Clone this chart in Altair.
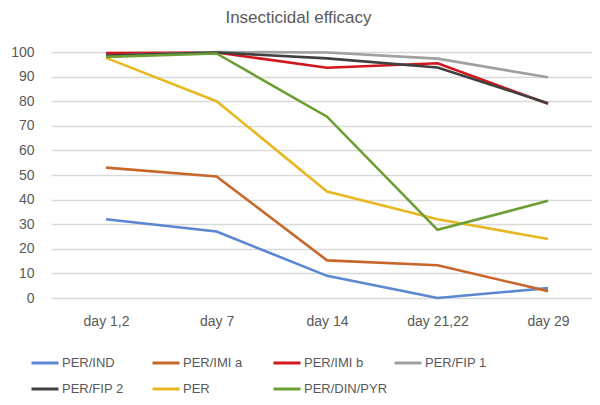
import altair as alt
import pandas as pd

days = ["day 1,2", "day 7", "day 14", "day 21,22", "day 29"]
series_names = ["PER/IND", "PER/IMI a", "PER/IMI b", "PER/FIP 1", "PER/FIP 2", "PER", "PER/DIN/PYR"]
per_ind = [32, 27, 9, 0, 4]
per_imi_a = [53, 49.4, 15.3, 13.3, 2.8]
per_imi_b = [99.6, 99.8, 93.6, 95.4, 79]
per_fip_1 = [98.5, 100, 99.8, 97.3, 89.7]
per_fip_2 = [98.6, 99.8, 97.4, 93.7, 79.2]
per = [97.6, 80, 43.3, 32, 24]
per_din_pyr = [98, 99.4, 73.7, 27.7, 39.5]
colors = ["#5B87D2", "#C8662C", "#D2161B", "#A0A0A0", "#404040", "#E8B823", "#6B9E33"]

values = [per_ind, per_imi_a, per_imi_b, per_fip_1, per_fip_2, per, per_din_pyr]
rows = []
for name, vals in zip(series_names, values):
    for d, v in zip(days, vals):
        rows.append({"day": d, "series": name, "value": v})
df = pd.DataFrame(rows)

font = "Liberation Sans"
chart = alt.Chart(df).mark_line(strokeWidth=2.6).encode(
    x=alt.X("day:N", sort=days, title=None,
            scale=alt.Scale(type="point", padding=0.448, align=0.556),
            axis=alt.Axis(labelAngle=0, domain=False, ticks=False, grid=False,
                          labelPadding=16, labelFontSize=14, labelColor="#595959", labelFont=font)),
    y=alt.Y("value:Q", title=None,
            scale=alt.Scale(domain=[0, 100], nice=False),
            axis=alt.Axis(values=list(range(0, 101, 10)), domain=False, ticks=False,
                          gridColor="#D9D9D9", gridWidth=1.5, labelPadding=17,
                          labelFontSize=14, labelColor="#595959", labelFont=font)),
    color=alt.Color("series:N", sort=series_names,
                    scale=alt.Scale(domain=series_names, range=colors),
                    legend=alt.Legend(title=None, orient="none", legendX=-21, legendY=296,
                                      columns=4, direction="horizontal", gridAlign="all",
                                      symbolType="stroke", symbolStrokeWidth=3, symbolSize=729,
                                      labelOffset=2,
                                      labelFontSize=13, labelColor="#595959", labelFont=font,
                                      columnPadding=0, rowPadding=4, symbolOffset=0)),
).properties(
    width=541, height=246,
    title=alt.TitleParams("Insecticidal efficacy", fontSize=17, fontWeight="normal",
                          color="#595959", font=font, dx=-23, offset=18),
    autosize=alt.AutoSizeParams(type="none"),
    padding={"left": 43, "top": 44, "right": 0, "bottom": 99},
).configure_view(stroke=None)

chart.save("out.html", embed_options={"renderer": "svg", "actions": False})
